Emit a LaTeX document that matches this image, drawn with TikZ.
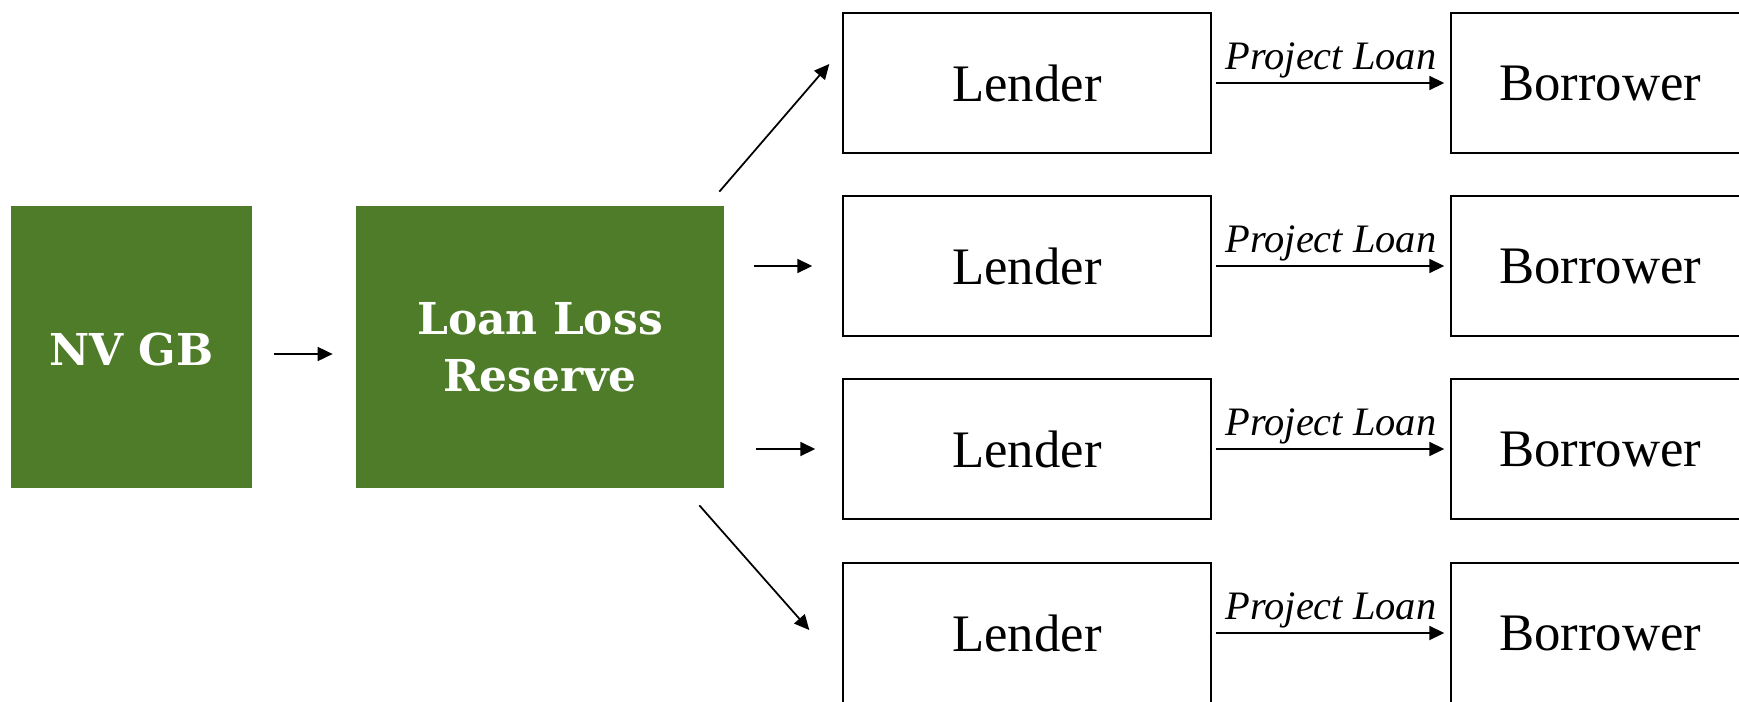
\documentclass[tikz,border=0pt]{standalone}
\usepackage{fontspec}
\setmainfont{Liberation Serif}
\newfontfamily\greenfont{DejaVu Serif}
\usetikzlibrary{arrows.meta}
\definecolor{reservegreen}{RGB}{78,124,41}

\begin{document}
\begin{tikzpicture}[greenbox/.style = {fill=reservegreen, text=white, minimum height=5.64cm, align=center, font=\greenfont\bfseries\fontsize{25}{32.4}\selectfont},
    box/.style = {draw, line width=0.8pt, minimum height=2.8cm, font=\fontsize{30}{36}\selectfont},
    arr/.style = {-{Triangle[length=0.3cm,width=0.28cm]}, line width=1pt},
    loan/.style = {anchor=base, yshift=0.28cm, font=\itshape\fontsize{23}{28}\selectfont}]
    \useasboundingbox (0,0) rectangle (34.78,-14.02);
    \clip (0,0) rectangle (34.78,-14.02);

    \node[greenbox, minimum width=4.82cm, text height=21pt] (nvgb) at (2.63,-6.94) {NV GB};
    \node[greenbox, minimum width=7.36cm] (llr) at (10.8,-6.94) {\raisebox{-2pt}{Loan Loss}\\\raisebox{-2pt}{Reserve}};

    \node[box, minimum width=7.36cm] (l1) at (20.54,-1.66) {Lender};
    \node[box, minimum width=7.36cm] (l2) at (20.54,-5.32) {Lender};
    \node[box, minimum width=7.36cm] (l3) at (20.54,-8.98) {Lender};
    \node[box, minimum width=7.36cm] (l4) at (20.54,-12.66) {Lender};

    \node[box, minimum width=5.96cm] (b1) at (32,-1.66) {Borrower};
    \node[box, minimum width=5.96cm] (b2) at (32,-5.32) {Borrower};
    \node[box, minimum width=5.96cm] (b3) at (32,-8.98) {Borrower};
    \node[box, minimum width=5.96cm] (b4) at (32,-12.66) {Borrower};

    \draw[arr, shorten <=0.44cm, shorten >=0.46cm] ([yshift=-0.14cm]nvgb.east) -- ([yshift=-0.14cm]nvgb.east -| llr.west);

    \draw[arr] ([shift={(-0.1,0.28)}]llr.north east) -- ([shift={(-0.26,0.38)}]l1.west);
    \draw[arr, shorten <=0.6cm, shorten >=0.6cm] (llr.east |- l2.west) -- (l2.west);
    \draw[arr, shorten <=0.64cm, shorten >=0.54cm] (llr.east |- l3.west) -- (l3.west);
    \draw[arr] ([shift={(-0.5,-0.34)}]llr.south east) -- ([shift={(-0.66,0.06)}]l4.west);

    \draw[arr, shorten <=0.08cm, shorten >=0.12cm] (l1) -- node[loan] {Project Loan} (b1);
    \draw[arr, shorten <=0.08cm, shorten >=0.12cm] (l2) -- node[loan] {Project Loan} (b2);
    \draw[arr, shorten <=0.08cm, shorten >=0.12cm] (l3) -- node[loan] {Project Loan} (b3);
    \draw[arr, shorten <=0.08cm, shorten >=0.12cm] (l4) -- node[loan] {Project Loan} (b4);

\end{tikzpicture}
\end{document}
